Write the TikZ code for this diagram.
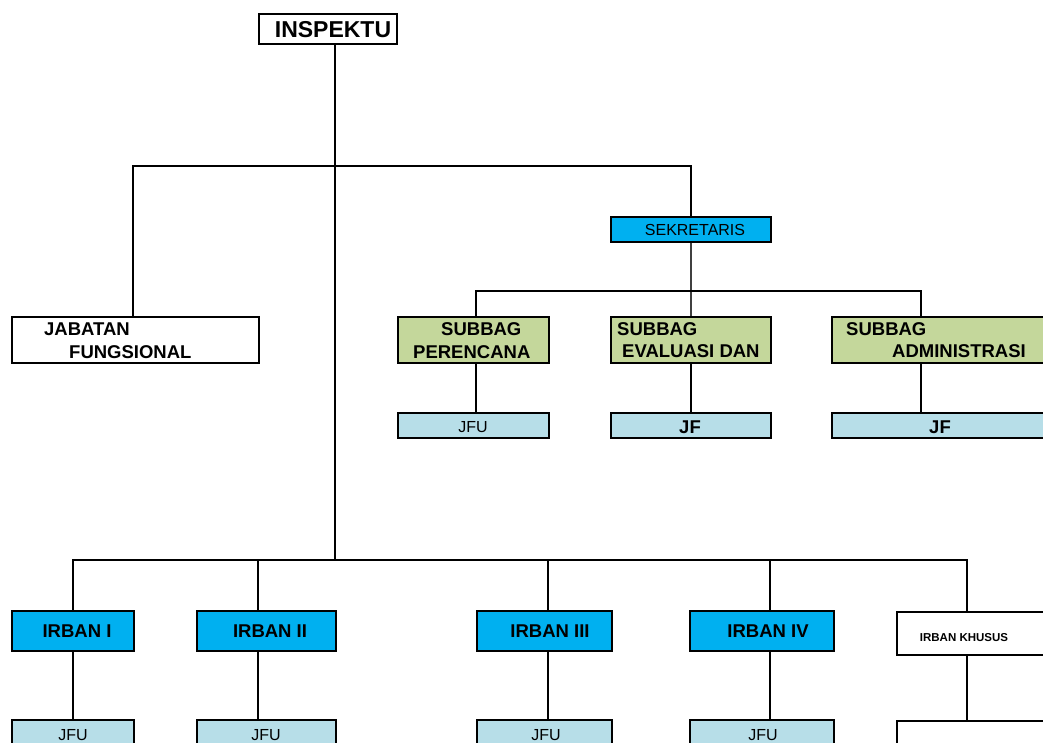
\documentclass[tikz,border=0pt]{standalone}
\usepackage{fontspec}
\setmainfont{Liberation Sans}
\definecolor{irbanblue}{RGB}{0,176,240}
\definecolor{subbaggreen}{RGB}{196,215,155}
\definecolor{jfblue}{RGB}{183,222,232}
\tikzset{
  unit/.style={draw, line width=1.6pt, inner sep=0pt, anchor=north west},
  conn/.style={line width=1.6pt},
  lbl/.style={inner sep=0pt, anchor=base},
  lbll/.style={inner sep=0pt, anchor=base west},
  txtbig/.style={font=\bfseries\fontsize{23}{26}\selectfont},
  txtmid/.style={font=\bfseries\fontsize{18.5}{21}\selectfont},
  txtplain/.style={font=\fontsize{16}{19}\selectfont},
  txtsmall/.style={font=\bfseries\fontsize{11.5}{13}\selectfont},
}

\begin{document}
\begin{tikzpicture}[x=1pt,y=-1pt]
        \useasboundingbox (0,0) rectangle (1043,742);
        \clip (0,0) rectangle (1043,742);

        % top part
        \node[unit, fill=white, minimum width=138pt, minimum height=30pt] (inspektu) at (258,13) {};
        \node[unit, fill=white, minimum width=247pt, minimum height=46pt] (jabatan) at (11,316) {};
        \node[unit, fill=irbanblue, minimum width=160pt, minimum height=25pt] (sekretaris) at (610,216) {};
        \node[unit, fill=subbaggreen, minimum width=151pt, minimum height=46pt] (perencana) at (397,316) {};
        \node[unit, fill=subbaggreen, minimum width=160pt, minimum height=46pt] (evaluasi) at (610,316) {};
        \node[unit, fill=subbaggreen, minimum width=230pt, minimum height=46pt] (admin) at (831,316) {};
        \node[unit, fill=jfblue, minimum width=151pt, minimum height=25pt] (jfuA) at (397,412) {};
        \node[unit, fill=jfblue, minimum width=160pt, minimum height=25pt] (jfA) at (610,412) {};
        \node[unit, fill=jfblue, minimum width=230pt, minimum height=25pt] (jfB) at (831,412) {};

        % irban row
        \node[unit, fill=irbanblue, minimum width=122pt, minimum height=40pt] (irban1) at (11,610) {};
        \node[unit, fill=irbanblue, minimum width=139pt, minimum height=40pt] (irban2) at (196,610) {};
        \node[unit, fill=irbanblue, minimum width=135pt, minimum height=40pt] (irban3) at (476,610) {};
        \node[unit, fill=irbanblue, minimum width=144pt, minimum height=40pt] (irban4) at (689,610) {};
        \node[unit, fill=white, minimum width=160pt, minimum height=43pt] (khusus) at (896,611) {};
        \node[unit, fill=jfblue, minimum width=122pt, minimum height=40pt] (jfu1) at (11,719) {};
        \node[unit, fill=jfblue, minimum width=139pt, minimum height=40pt] (jfu2) at (196,719) {};
        \node[unit, fill=jfblue, minimum width=135pt, minimum height=40pt] (jfu3) at (476,719) {};
        \node[unit, fill=jfblue, minimum width=144pt, minimum height=40pt] (jfu4) at (689,719) {};
        \node[unit, fill=white, minimum width=160pt, minimum height=40pt] (blank) at (896,720) {};

        % lines
        \coordinate (top) at (335,166);
        \coordinate (bot) at (335,560);
        \coordinate (sekbar) at (689,291);
        \draw[line width=2.2pt] (inspektu.south -| top) -- (bot);
        \draw[conn] (top) -| ([xshift=122pt]jabatan.north west);
        \draw[line width=2.4pt] (top) -| (sekretaris.north);
        \draw[conn, black!75] (sekretaris.south) -- (evaluasi.north);
        \draw[conn] ([xshift=79pt]perencana.north west) |- (sekbar) -| ([xshift=90pt]admin.north west);
        \draw[conn] ([xshift=79pt]perencana.south west) -- ([xshift=79pt]jfuA.north west);
        \draw[conn] (evaluasi.south) -- (jfA.north);
        \draw[conn] ([xshift=90pt]admin.south west) -- ([xshift=90pt]jfB.north west);

        \draw[conn] ([xshift=62pt]irban1.north west) |- (bot) -| ([xshift=71pt]khusus.north west);
        \draw[conn] ([xshift=62pt]irban2.north west) |- (bot);
        \draw[conn] ([xshift=72pt]irban3.north west) |- (bot);
        \draw[conn] ([xshift=81pt]irban4.north west) |- (bot);
        \draw[conn] ([xshift=62pt]irban1.south west) -- ([xshift=62pt]jfu1.north west);
        \draw[conn] ([xshift=62pt]irban2.south west) -- ([xshift=62pt]jfu2.north west);
        \draw[conn] ([xshift=72pt]irban3.south west) -- ([xshift=72pt]jfu3.north west);
        \draw[conn] ([xshift=81pt]irban4.south west) -- ([xshift=81pt]jfu4.north west);
        \draw[conn] ([xshift=71pt]khusus.south west) -- ([xshift=71pt]blank.north west);

        % texts
        \node[lbl, txtbig] (t-inspektu) at (333,37) {INSPEKTU};
        \node[lbll, txtmid] (t-jab1) at (44,335) {JABATAN};
        \node[lbll, txtmid] (t-jab2) at (69,358) {FUNGSIONAL};
        \node[lbl, txtplain] (t-sek) at (695,235) {SEKRETARIS};
        \node[lbll, txtmid] (t-per1) at (441,335) {SUBBAG};
        \node[lbll, txtmid] (t-per2) at (413,358) {PERENCANA};
        \node[lbll, txtmid] (t-eva1) at (617,335) {SUBBAG};
        \node[lbll, txtmid] (t-eva2) at (622,357) {EVALUASI DAN};
        \node[lbll, txtmid] (t-adm1) at (846,335) {SUBBAG};
        \node[lbll, txtmid] (t-adm2) at (892,357) {ADMINISTRASI};
        \node[lbl, txtplain] (t-jfuA) at (473,432) {JFU};
        \node[lbl, txtmid] (t-jfA) at (690,433) {JF};
        \node[lbl, txtmid] (t-jfB) at (940,433) {JF};

        \node[lbl, txtmid] (t-irban1) at (77,637) {IRBAN I};
        \node[lbl, txtmid] (t-irban2) at (270,637) {IRBAN II};
        \node[lbl, txtmid] (t-irban3) at (550,637) {IRBAN III};
        \node[lbl, txtmid] (t-irban4) at (768,637) {IRBAN IV};
        \node[lbl, txtsmall] (t-khusus) at (964,641) {IRBAN KHUSUS};
        \node[lbl, txtplain] (t-jfu1) at (73,740) {JFU};
        \node[lbl, txtplain] (t-jfu2) at (266,740) {JFU};
        \node[lbl, txtplain] (t-jfu3) at (546,740) {JFU};
        \node[lbl, txtplain] (t-jfu4) at (763,740) {JFU};
\end{tikzpicture}
\end{document}
